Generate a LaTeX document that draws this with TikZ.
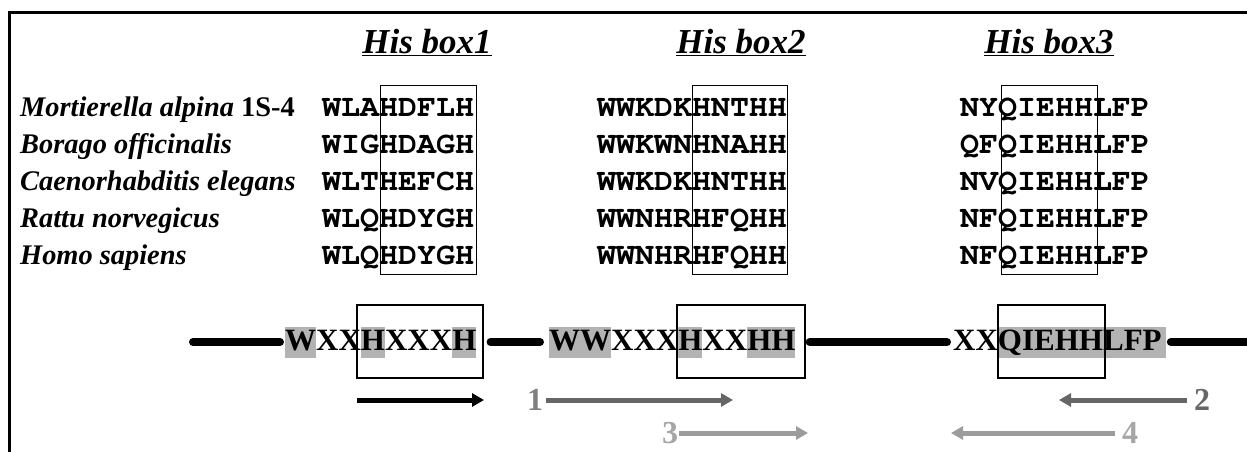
\documentclass[tikz,border=0pt]{standalone}
\usepackage{fontspec}
\setmainfont{Liberation Serif}
\newfontfamily\seqfont{texgyrecursor-bold.otf}
\usetikzlibrary{arrows.meta}
\definecolor{hlgray}{HTML}{B3B3B3}
\definecolor{darkarrow}{HTML}{666666}
\definecolor{lightarrow}{HTML}{9C9C9C}
\newcommand\hlg[1]{\begingroup\setlength\fboxsep{0pt}\colorbox{hlgray}{\rule[-0.26em]{0pt}{1em}#1}\endgroup}
\newcommand\seqtxt[1]{\scalebox{1.02}[1]{#1}}
\begin{document}
\begin{tikzpicture}[x=1pt,y=-1pt,
  species/.style={anchor=base west, inner sep=0, font=\fontsize{28.4}{28.4}\selectfont\bfseries\itshape},
  seq/.style={anchor=base west, inner sep=0, font=\fontsize{31}{31}\selectfont\seqfont},
  boxtitle/.style={anchor=base, inner sep=0, font=\fontsize{35}{35}\selectfont\bfseries\itshape},
  colbox/.style={draw, line width=1pt},
  motifbox/.style={draw, line width=1.5pt},
  motif/.style={anchor=base west, inner sep=0, font=\fontsize{31}{31}\selectfont\bfseries},
  backbone/.style={line width=8pt, line cap=round},
  primer/.style={line width=5pt, -{Triangle[length=12pt,width=13pt]}},
  numlab/.style={inner sep=0, font=\fontsize{32}{32}\selectfont\bfseries},
  frame/.style={line width=3pt}]
\useasboundingbox (0,0) rectangle (1247,452);
% frame
\draw[frame] (1247,13) -- (9.5,13) -- (9.5,452);
% titles
\node[boxtitle] (t1) at (427,53) {\underline{His box1}};
\node[boxtitle] (t2) at (741,53) {\underline{His box2}};
\node[boxtitle] (t3) at (1049,53) {\underline{His box3}};
% species
\node[species] (s1) at (20,116) {Mortierella alpina \upshape1S-4};
\node[species] (s2) at (20,153) {Borago officinalis};
\node[species] (s3) at (20,190) {Caenorhabditis elegans};
\node[species] (s4) at (20,227) {Rattu norvegicus};
\node[species] (s5) at (20,264) {Homo sapiens};
% box1 sequences
\node[seq] (a1) at (322,116) {\seqtxt{WLAHDFLH}};
\node[seq] (a2) at (322,153) {\seqtxt{WIGHDAGH}};
\node[seq] (a3) at (322,190) {\seqtxt{WLTHEFCH}};
\node[seq] (a4) at (322,227) {\seqtxt{WLQHDYGH}};
\node[seq] (a5) at (322,264) {\seqtxt{WLQHDYGH}};
% box2 sequences
\node[seq] (b1) at (597,116) {\seqtxt{WWKDKHNTHH}};
\node[seq] (b2) at (597,153) {\seqtxt{WWKWNHNAHH}};
\node[seq] (b3) at (597,190) {\seqtxt{WWKDKHNTHH}};
\node[seq] (b4) at (597,227) {\seqtxt{WWNHRHFQHH}};
\node[seq] (b5) at (597,264) {\seqtxt{WWNHRHFQHH}};
% box3 sequences
\node[seq] (c1) at (960,116) {\seqtxt{NYQIEHHLFP}};
\node[seq] (c2) at (960,153) {\seqtxt{QFQIEHHLFP}};
\node[seq] (c3) at (960,190) {\seqtxt{NVQIEHHLFP}};
\node[seq] (c4) at (960,227) {\seqtxt{NFQIEHHLFP}};
\node[seq] (c5) at (960,264) {\seqtxt{NFQIEHHLFP}};
% column boxes
\draw[colbox] (380,85) rectangle (476,274);
\draw[colbox] (692,85) rectangle (787,274);
\draw[colbox] (1001,85) rectangle (1097,274);
% motifs
\node[motif] (mA) at (285,350) {\hlg{W}XX\hlg{H}XXX\hlg{H}};
\node[motif] (mB) at (549,350) {\hlg{WW}XXX\hlg{H}XX\hlg{HH}};
\node[motif] (mC) at (953,350) {XX\hlg{QIEHHLFP\kern4pt}};
\draw[motifbox] (357,305) rectangle (483,378);
\draw[motifbox] (677,305) rectangle (805,378);
\draw[motifbox] (998,305) rectangle (1105,378);
% backbone
\coordinate (L0) at (193,342);
\coordinate (R0) at (1252,342);
\draw[backbone] (L0) -- ([xshift=-5pt]mA.west |- L0);
\draw[backbone] ([xshift=14pt]mA.east |- L0) -- ([xshift=-9pt]mB.west |- L0);
\draw[backbone] ([xshift=14pt]mB.east |- L0) -- ([xshift=-6pt]mC.west |- L0);
\draw[backbone] ([xshift=5pt]mC.east |- L0) -- (R0);
% primers
\coordinate (p0s) at (357,400);
\coordinate (p0e) at (484,400);
\draw[primer] (p0s) -- (p0e);
\node[numlab, text=gray] (n1) at (535,400) {1};
\coordinate (p1e) at (733,400);
\draw[primer, darkarrow] ([xshift=3pt]n1.east |- p1e) -- (p1e);
\node[numlab, text=darkarrow] (n2) at (1202,400) {2};
\coordinate (p2e) at (1059,400);
\draw[primer, darkarrow] ([xshift=-7pt]n2.west |- p2e) -- (p2e);
\node[numlab, text=lightarrow!90] (n3) at (670,433) {3};
\coordinate (p3e) at (808,433);
\draw[primer, lightarrow] ([xshift=1pt]n3.east |- p3e) -- (p3e);
\node[numlab, text=lightarrow!90] (n4) at (1130,433) {4};
\coordinate (p4e) at (951,433);
\draw[primer, lightarrow] ([xshift=-7pt]n4.west |- p4e) -- (p4e);
\end{tikzpicture}
\end{document}
